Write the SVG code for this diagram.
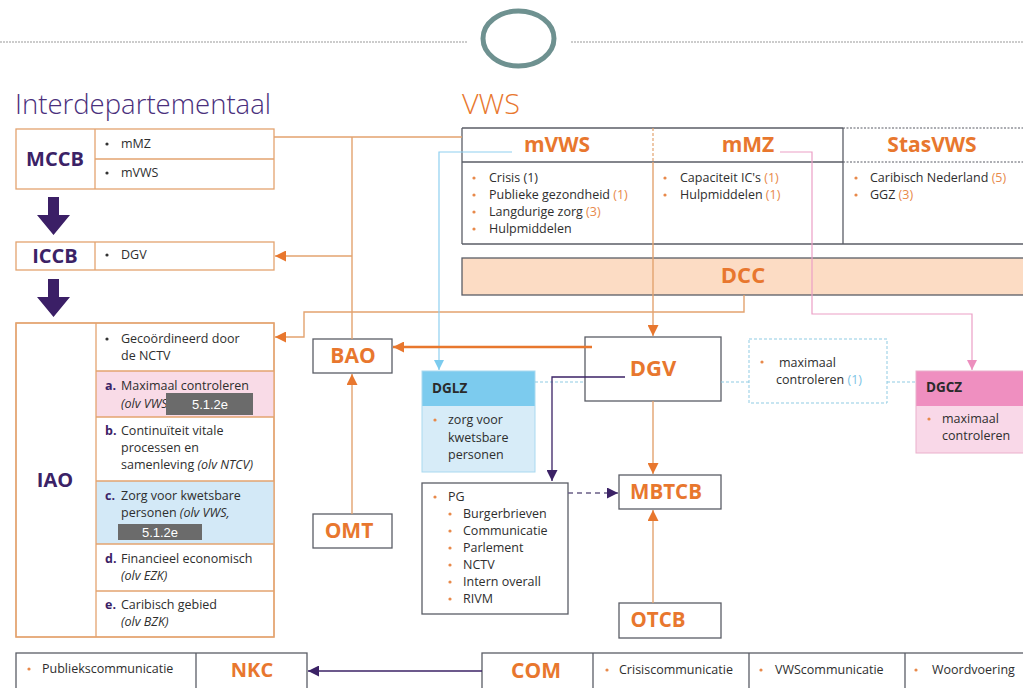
<svg xmlns="http://www.w3.org/2000/svg" width="1023" height="688" viewBox="0 0 1023 688">
<style>
.t{font-family:"Open Sans","Liberation Sans",sans-serif;font-size:12.5px;fill:#2e2e2e}
.i{font-style:italic}
.n{fill:#e8894a}
.nb{fill:#7cc3e4}
.h{font-family:"Open Sans","Liberation Sans",sans-serif;font-weight:700;fill:#e8772e;text-anchor:middle}
.p{font-family:"Open Sans","Liberation Sans",sans-serif;font-weight:700;fill:#3b2266}
.lb{font-family:"Open Sans","Liberation Sans",sans-serif;font-weight:700;fill:#2a2a2a;font-size:13.5px}
.tan{fill:#fff;stroke:#e3a36f;stroke-width:1.3}
.gry{fill:#fff;stroke:#5a5d66;stroke-width:1.3}
.red{fill:#6b6b6b}
.rt{font-family:"Liberation Sans",Arial,sans-serif;font-size:13px;fill:#fff;text-anchor:middle}
.bo{fill:#e8894a}
.bd{fill:#333}
.c{fill:none;stroke:#e3a36f;stroke-width:1.4}
</style>
<defs>
<marker id="ao" viewBox="0 0 10 10" refX="10" refY="5" markerWidth="12" markerHeight="11" markerUnits="userSpaceOnUse" orient="auto"><path d="M0,0L10,5L0,10z" fill="#e8772e"/></marker>
<marker id="ab" viewBox="0 0 10 10" refX="10" refY="5" markerWidth="10" markerHeight="10" markerUnits="userSpaceOnUse" orient="auto"><path d="M0,0L10,5L0,10z" fill="#7ccbee"/></marker>
<marker id="ak" viewBox="0 0 10 10" refX="10" refY="5" markerWidth="10" markerHeight="10" markerUnits="userSpaceOnUse" orient="auto"><path d="M0,0L10,5L0,10z" fill="#ec8fbe"/></marker>
<marker id="ap" viewBox="0 0 10 10" refX="10" refY="5" markerWidth="11" markerHeight="11" markerUnits="userSpaceOnUse" orient="auto"><path d="M0,0L10,5L0,10z" fill="#3b2266"/></marker>
</defs>
<rect width="1023" height="688" fill="#fff"/>

<g id="header">
<line x1="0" y1="42" x2="467" y2="42" stroke="#9a9a9a" stroke-width="1.2" stroke-dasharray="2,1"/>
<line x1="571" y1="42" x2="1023" y2="42" stroke="#9a9a9a" stroke-width="1.2" stroke-dasharray="2,1"/>
<ellipse cx="518.5" cy="38.5" rx="35.5" ry="27.5" fill="none" stroke="#6e9190" stroke-width="5"/>
<text x="15" y="114" textLength="256" lengthAdjust="spacingAndGlyphs" style="font-family:'Open Sans','Liberation Sans',sans-serif;font-size:28px;font-weight:300;fill:#4a2f7c">Interdepartementaal</text>
<text x="462" y="114" textLength="58" lengthAdjust="spacingAndGlyphs" style="font-family:'Open Sans','Liberation Sans',sans-serif;font-size:28px;font-weight:300;fill:#e8772e">VWS</text>
</g>

<g id="mccb">
<rect class="tan" x="16" y="129" width="258" height="60"/>
<line x1="95" y1="129" x2="95" y2="189" stroke="#e3a36f" stroke-width="1.3"/>
<line x1="95" y1="159" x2="274" y2="159" stroke="#e3a36f" stroke-width="1.3"/>
<text class="p" x="55" y="166" text-anchor="middle" font-size="20">MCCB</text>
<circle class="bd" cx="107" cy="144" r="1.6"/><text class="t" x="121" y="148">mMZ</text>
<circle class="bd" cx="107" cy="173" r="1.6"/><text class="t" x="121" y="177">mVWS</text>
</g>

<g id="arrows-down">
<path d="M48,197H59V215H70L53.5,235L37,215H48Z" fill="#3b1f66"/>
<path d="M48,279H59V297H70L53.5,317L37,297H48Z" fill="#3b1f66"/>
</g>

<g id="iccb">
<rect class="tan" x="16" y="242" width="258" height="28"/>
<line x1="95" y1="242" x2="95" y2="270" stroke="#e3a36f" stroke-width="1.3"/>
<text class="p" x="55" y="263" text-anchor="middle" font-size="20">ICCB</text>
<circle class="bd" cx="107" cy="255" r="1.6"/><text class="t" x="121" y="259">DGV</text>
</g>

<g id="iao">
<rect class="tan" x="16" y="323" width="258" height="314"/>
<rect x="96" y="371" width="178" height="46" fill="#f9dbe7"/>
<rect x="96" y="481" width="178" height="63" fill="#d3e9f7"/>
<rect x="16" y="323" width="258" height="314" fill="none" stroke="#e3a36f" stroke-width="1.3"/>
<line x1="96" y1="323" x2="96" y2="637" stroke="#e3a36f" stroke-width="1.3"/>
<g stroke="#e3a36f" stroke-width="1.3">
<line x1="96" y1="371" x2="274" y2="371"/><line x1="96" y1="417" x2="274" y2="417"/>
<line x1="96" y1="481" x2="274" y2="481"/><line x1="96" y1="544" x2="274" y2="544"/>
<line x1="96" y1="591" x2="274" y2="591"/>
</g>
<text class="p" x="55" y="487" text-anchor="middle" font-size="20">IAO</text>
<circle class="bd" cx="107" cy="339" r="1.6"/>
<text class="t" x="121" y="343">Gecoördineerd door</text>
<text class="t" x="121" y="360">de NCTV</text>
<text class="p" x="105" y="390" font-size="12.5">a.</text>
<text class="t" x="121" y="390">Maximaal controleren</text>
<text class="t i" x="121" y="408">(olv VWS</text>
<rect class="red" x="166" y="393" width="87" height="22"/>
<text class="rt" x="210" y="409">5.1.2e</text>
<text class="p" x="105" y="435" font-size="12.5">b.</text>
<text class="t" x="121" y="435">Continuïteit vitale</text>
<text class="t" x="121" y="452">processen en</text>
<text class="t" x="121" y="469">samenleving <tspan class="i">(olv NTCV)</tspan></text>
<text class="p" x="105" y="500" font-size="12.5">c.</text>
<text class="t" x="121" y="500">Zorg voor kwetsbare</text>
<text class="t" x="121" y="517">personen <tspan class="i">(olv VWS,</tspan></text>
<rect class="red" x="118" y="524" width="84" height="16"/>
<text class="rt" x="160" y="537">5.1.2e</text>
<text class="p" x="105" y="563" font-size="12.5">d.</text>
<text class="t" x="121" y="563">Financieel economisch</text>
<text class="t i" x="121" y="580">(olv EZK)</text>
<text class="p" x="105" y="609" font-size="12.5">e.</text>
<text class="t" x="121" y="609">Caribisch gebied</text>
<text class="t i" x="121" y="626">(olv BZK)</text>
</g>

<g id="vws-table">
<rect x="462" y="128" width="580" height="116" fill="#fff" stroke="none"/>
<line x1="462" y1="128" x2="843" y2="128" stroke="#5a5d66" stroke-width="1.3"/>
<line x1="843" y1="128" x2="1023" y2="128" stroke="#5a5d66" stroke-width="1.2" stroke-dasharray="2,1.5"/>
<line x1="462" y1="162" x2="843" y2="162" stroke="#5a5d66" stroke-width="1.5"/>
<line x1="843" y1="162" x2="1023" y2="162" stroke="#5a5d66" stroke-width="1.2" stroke-dasharray="2,1.5"/>
<line x1="462" y1="244" x2="1023" y2="244" stroke="#5a5d66" stroke-width="1.3"/>
<line x1="462" y1="128" x2="462" y2="244" stroke="#5a5d66" stroke-width="1.3"/>
<line x1="843" y1="128" x2="843" y2="244" stroke="#5a5d66" stroke-width="1.3"/>
<line x1="653" y1="128" x2="653" y2="162" stroke="#e3a36f" stroke-width="1.2" stroke-dasharray="3,2"/>
<text class="h" x="557" y="152" font-size="21">mVWS</text>
<text class="h" x="748" y="152" font-size="21">mMZ</text>
<text class="h" x="932" y="152" font-size="21">StasVWS</text>
<circle class="bo" cx="474" cy="178" r="1.6"/><text class="t" x="489" y="182">Crisis (1)</text>
<circle class="bo" cx="474" cy="195" r="1.6"/><text class="t" x="489" y="199">Publieke gezondheid <tspan class="n">(1)</tspan></text>
<circle class="bo" cx="474" cy="212" r="1.6"/><text class="t" x="489" y="216">Langdurige zorg <tspan class="n">(3)</tspan></text>
<circle class="bo" cx="474" cy="229" r="1.6"/><text class="t" x="489" y="233">Hulpmiddelen</text>
<circle class="bo" cx="665" cy="178" r="1.6"/><text class="t" x="680" y="182">Capaciteit IC's <tspan class="n">(1)</tspan></text>
<circle class="bo" cx="665" cy="195" r="1.6"/><text class="t" x="680" y="199">Hulpmiddelen <tspan class="n">(1)</tspan></text>
<circle class="bo" cx="856" cy="178" r="1.6"/><text class="t" x="870" y="182">Caribisch Nederland <tspan class="n">(5)</tspan></text>
<circle class="bo" cx="856" cy="195" r="1.6"/><text class="t" x="870" y="199">GGZ <tspan class="n">(3)</tspan></text>
</g>

<g id="dcc">
<rect x="462" y="258" width="580" height="37" fill="#fcdcc4" stroke="#5a5d66" stroke-width="1.3"/>
<text class="h" x="743" y="283" font-size="22">DCC</text>
</g>

<g id="bao">
<rect class="gry" x="313" y="339" width="79" height="34"/>
<text class="h" x="353" y="363" font-size="21">BAO</text>
</g>

<g id="dgv">
<rect class="gry" x="585" y="337" width="136" height="64"/>
<text class="h" x="653" y="376" font-size="22">DGV</text>
</g>

<g id="dglz">
<rect x="422" y="371" width="113" height="35" fill="#7ccbee"/>
<rect x="422" y="406" width="113" height="66" fill="#d7ecf8"/>
<rect x="422" y="371" width="113" height="101" fill="none" stroke="#a9d9f0" stroke-width="1"/>
<text class="lb" x="432" y="393">DGLZ</text>
<circle class="bo" cx="435" cy="420" r="1.6"/>
<text class="t" x="448" y="424">zorg voor</text>
<text class="t" x="448" y="442">kwetsbare</text>
<text class="t" x="448" y="459">personen</text>
</g>

<g id="maximaal">
<rect x="749" y="339" width="138" height="64" fill="#fff" stroke="#8fcbe3" stroke-width="1" stroke-dasharray="3,2"/>
<circle class="bo" cx="762" cy="362" r="1.6"/>
<text class="t" x="779" y="367">maximaal</text>
<text class="t" x="776" y="384">controleren <tspan class="nb">(1)</tspan></text>
</g>

<g id="dgcz">
<rect x="916" y="371" width="120" height="35" fill="#ef8fc0"/>
<rect x="916" y="406" width="120" height="47" fill="#f9d8e8"/>
<rect x="916" y="371" width="120" height="82" fill="none" stroke="#eab0cc" stroke-width="1"/>
<text class="lb" x="926" y="392">DGCZ</text>
<circle class="bo" cx="929" cy="419" r="1.6"/>
<text class="t" x="942" y="423">maximaal</text>
<text class="t" x="942" y="440">controleren</text>
</g>

<g id="omt">
<rect class="gry" x="313" y="514" width="79" height="34"/>
<text class="h" x="349" y="538" font-size="21">OMT</text>
</g>

<g id="pg">
<rect class="gry" x="422" y="483" width="146" height="131"/>
<circle class="bo" cx="435" cy="497" r="1.6"/><text class="t" x="448" y="501">PG</text>
<circle class="bo" cx="450" cy="514" r="1.6"/><text class="t" x="463" y="518">Burgerbrieven</text>
<circle class="bo" cx="450" cy="531" r="1.6"/><text class="t" x="463" y="535">Communicatie</text>
<circle class="bo" cx="450" cy="548" r="1.6"/><text class="t" x="463" y="552">Parlement</text>
<circle class="bo" cx="450" cy="565" r="1.6"/><text class="t" x="463" y="569">NCTV</text>
<circle class="bo" cx="450" cy="582" r="1.6"/><text class="t" x="463" y="586">Intern overall</text>
<circle class="bo" cx="450" cy="599" r="1.6"/><text class="t" x="463" y="603">RIVM</text>
</g>

<g id="mbtcb">
<rect class="gry" x="619" y="475" width="102" height="34"/>
<text class="h" x="666" y="499" font-size="20.5">MBTCB</text>
</g>

<g id="otcb">
<rect class="gry" x="619" y="603" width="102" height="35"/>
<text class="h" x="658" y="627" font-size="20.5">OTCB</text>
</g>

<g id="nkc">
<rect class="gry" x="16" y="653" width="291" height="50"/>
<line x1="196" y1="653" x2="196" y2="688" stroke="#5a5d66" stroke-width="1.3"/>
<circle class="bo" cx="29" cy="669" r="1.6"/><text class="t" x="42" y="673">Publiekscommunicatie</text>
<text class="h" x="252" y="677" font-size="20">NKC</text>
</g>

<g id="com">
<rect class="gry" x="482" y="653" width="560" height="50"/>
<g stroke="#5a5d66" stroke-width="1.3">
<line x1="593" y1="653" x2="593" y2="688"/><line x1="749" y1="653" x2="749" y2="688"/><line x1="905" y1="653" x2="905" y2="688"/>
</g>
<text class="h" x="536" y="678" font-size="21">COM</text>
<circle class="bo" cx="607" cy="670" r="1.6"/><text class="t" x="619" y="674">Crisiscommunicatie</text>
<circle class="bo" cx="761" cy="670" r="1.6"/><text class="t" x="775" y="674">VWScommunicatie</text>
<circle class="bo" cx="916" cy="670" r="1.6"/><text class="t" x="932" y="674">Woordvoering</text>
</g>

<g id="connectors">
<path class="c" d="M274,137H462M352,137V339"/>
<path class="c" d="M352,256H275" marker-end="url(#ao)"/>
<path class="c" d="M744,295V312H304V337H275" marker-end="url(#ao)"/>
<path d="M512,152H439V370" fill="none" stroke="#8fd0f0" stroke-width="1.2" marker-end="url(#ab)"/>
<path class="c" d="M653,162V336" marker-end="url(#ao)"/>
<path d="M780,152H812V314H972V370" fill="none" stroke="#ec9fc6" stroke-width="1.2" marker-end="url(#ak)"/>
<path d="M592,347H393" fill="none" stroke="#e8772e" stroke-width="2.4" marker-end="url(#ao)"/>
<path d="M535,382H585M721,382H749M887,382H916" fill="none" stroke="#8fcbe3" stroke-width="1" stroke-dasharray="3,2"/>
<path d="M625,377H552V481" fill="none" stroke="#3b2266" stroke-width="1.3" marker-end="url(#ap)"/>
<path class="c" d="M653,401V474" marker-end="url(#ao)"/>
<path class="c" d="M653,603V510" marker-end="url(#ao)"/>
<path class="c" d="M352,514V374" marker-end="url(#ao)"/>
<path d="M568,493H618" fill="none" stroke="#6a5f86" stroke-width="1.3" stroke-dasharray="5,4" marker-end="url(#ap)"/>
<path d="M482,671H308" fill="none" stroke="#3b2266" stroke-width="1.3" marker-end="url(#ap)"/>
</g>
</svg>
